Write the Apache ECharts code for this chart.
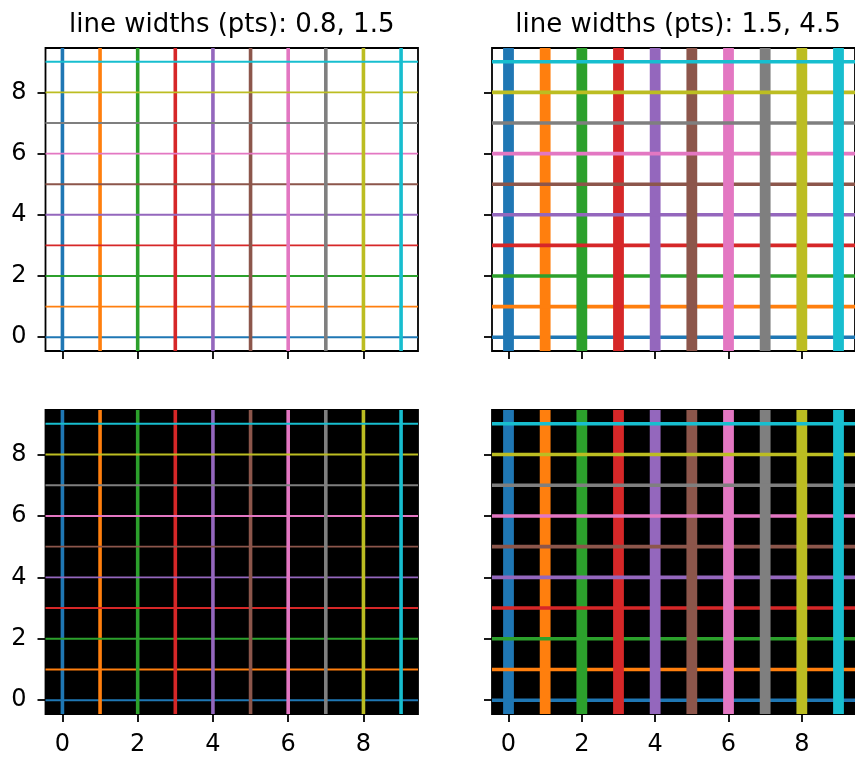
<!DOCTYPE html>
<html><head><meta charset="utf-8">
<script src="https://cdn.jsdelivr.net/npm/echarts@6/dist/echarts.min.js"></script>
<style>html,body{margin:0;padding:0;background:#fff}#c{width:855px;height:757px}</style>
</head><body><div id="c"></div>
<script>
// Data
const linePositions = [0,1,2,3,4,5,6,7,8,9];
const colors = ['#1f77b4','#ff7f0e','#2ca02c','#d62728','#9467bd','#8c564b','#e377c2','#7f7f7f','#bcbd22','#17becf'];
const xLimits = [-0.45, 9.45];
const yLimits = [-0.45, 9.45];
const tickValues = [0,2,4,6,8];
const titles = ['line widths (pts): 0.8, 1.5', 'line widths (pts): 1.5, 4.5'];
const widthsPts = [[0.8, 1.5], [1.5, 4.5]]; // [horizontal, vertical]
const PX_PER_PT = 2.4;

const grids = [
  {left: 45.5, top: 48, width: 372.5, height: 303, bg: '#fff', col: 0, row: 0},
  {left: 492, top: 48, width: 372, height: 303, bg: '#fff', col: 1, row: 0},
  {left: 45.5, top: 410, width: 372.5, height: 304, bg: '#000', col: 0, row: 1},
  {left: 492, top: 410, width: 372, height: 304, bg: '#000', col: 1, row: 1}
];
const font = 'DejaVu Sans';
const option = {
  animation: false,
  title: titles.map((t, i) => ({
    text: t, left: grids[i].left + grids[i].width / 2 - 5, top: 7, textAlign: 'center',
    textStyle: {fontFamily: font, fontSize: 26, fontWeight: 'normal', color: '#000'}
  })),
  grid: grids.map(g => ({
    left: g.left, top: g.top, width: g.width, height: g.height,
    show: true, backgroundColor: g.bg, borderColor: '#000', borderWidth: 1.8
  })),
  xAxis: grids.map((g, i) => ({
    type: 'value', gridIndex: i, min: xLimits[0], max: xLimits[1], position: 'bottom',
    splitLine: {show: false}, axisLine: {show: false, onZero: false},
    axisTick: {show: true, customValues: tickValues, length: 8, inside: false, lineStyle: {color: '#000', width: 1.8}},
    axisLabel: {show: g.row === 1, customValues: tickValues, margin: 19, fontFamily: font, fontSize: 24, color: '#000'}
  })),
  yAxis: grids.map((g, i) => ({
    type: 'value', gridIndex: i, min: yLimits[0], max: yLimits[1], position: 'left',
    splitLine: {show: false}, axisLine: {show: false, onZero: false},
    axisTick: {show: true, customValues: tickValues, length: 8, inside: false, lineStyle: {color: '#000', width: 1.8}},
    axisLabel: {show: g.col === 0, customValues: tickValues, margin: 19, fontFamily: font, fontSize: 24, color: '#000'}
  })),
  series: []
};
grids.forEach((g, gi) => {
  const [hw, vw] = widthsPts[g.col];
  linePositions.forEach((p, k) => {
    option.series.push({
      type: 'line', xAxisIndex: gi, yAxisIndex: gi, symbol: 'none', silent: true,
      data: [[p, yLimits[0]], [p, yLimits[1]]],
      lineStyle: {color: colors[k], width: vw * PX_PER_PT, cap: 'butt'}
    });
    option.series.push({
      type: 'line', xAxisIndex: gi, yAxisIndex: gi, symbol: 'none', silent: true,
      data: [[xLimits[0], p], [xLimits[1], p]],
      lineStyle: {color: colors[k], width: hw * PX_PER_PT, cap: 'butt'}
    });
  });
});
const chart = echarts.init(document.getElementById('c'), null, {renderer: 'canvas'});
chart.setOption(option);
</script></body></html>
